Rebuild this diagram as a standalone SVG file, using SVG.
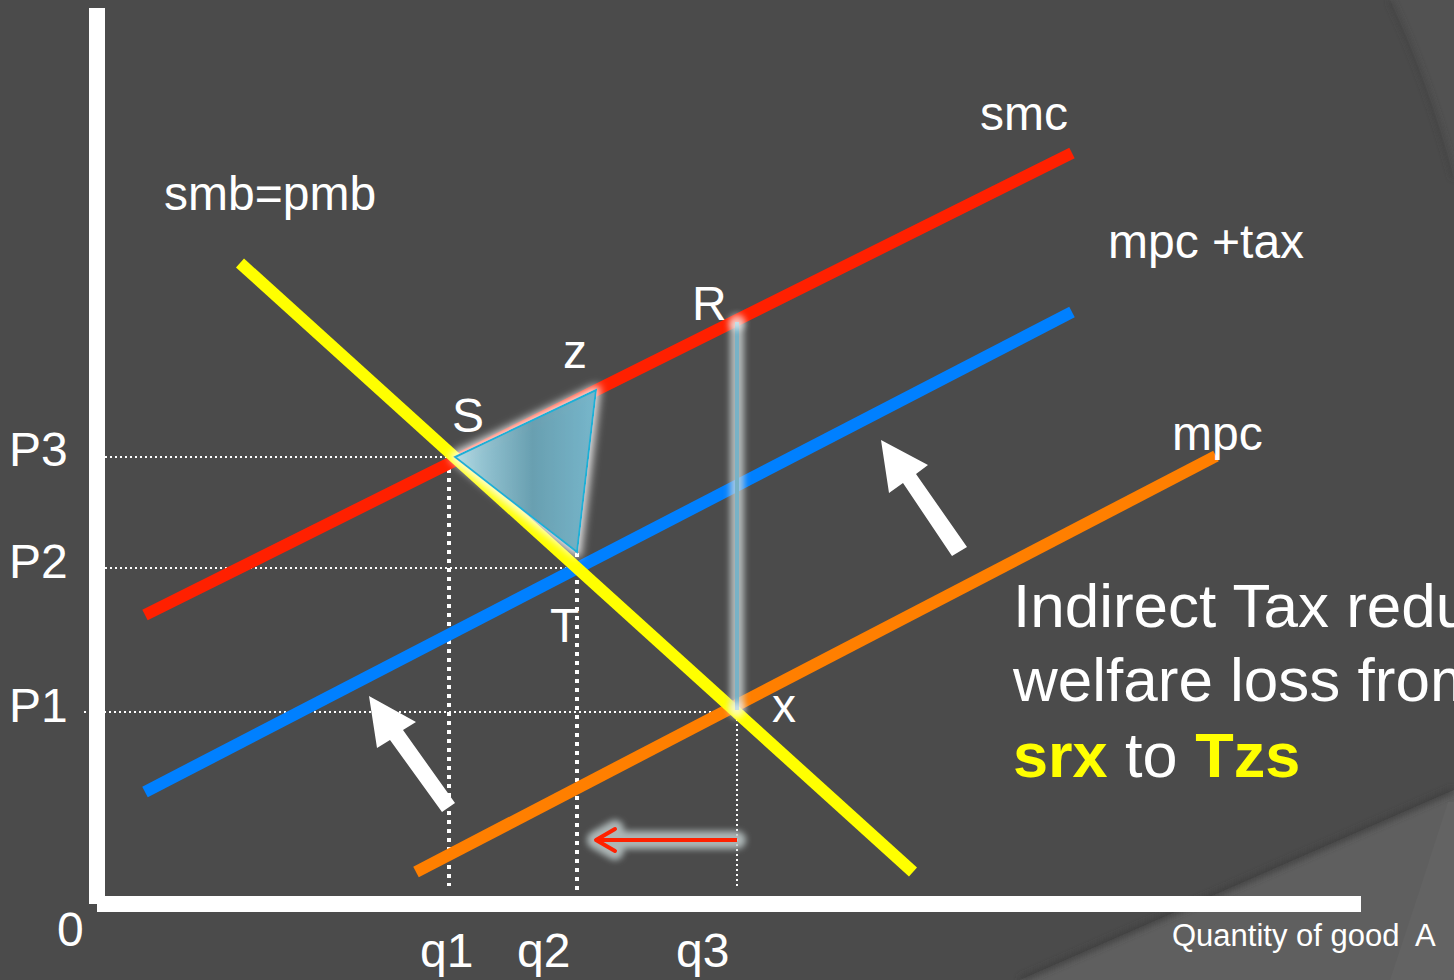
<svg xmlns="http://www.w3.org/2000/svg" width="1454" height="980" viewBox="0 0 1454 980">
<defs>
<style>
.lbl{font-family:"Liberation Sans",Arial,sans-serif;fill:#ffffff;font-size:48px}
.big{font-family:"Liberation Sans",Arial,sans-serif;fill:#ffffff;font-size:62px}
.ylw{fill:#ffff00;font-weight:bold}
.curve{fill:none;stroke-width:12;stroke-linecap:butt}
.dotS{fill:none;stroke:#ffffff;stroke-width:2;stroke-dasharray:2 3}
.dotB{fill:none;stroke:#ffffff;stroke-width:4;stroke-dasharray:4 5}
.warrow{fill:#ffffff}
</style>
<linearGradient id="triG" x1="0" y1="0" x2="1" y2="0">
<stop offset="0" stop-color="#b2dae4" stop-opacity="0.95"/>
<stop offset="0.2" stop-color="#8cc0cf" stop-opacity="0.95"/>
<stop offset="0.55" stop-color="#5b9aad" stop-opacity="0.95"/>
<stop offset="1" stop-color="#6cb3c9" stop-opacity="0.95"/>
</linearGradient>
<filter id="glow" x="-30%" y="-30%" width="160%" height="160%">
<feFlood flood-color="#ffffff" flood-opacity="0.85" result="f"/>
<feComposite in="f" in2="SourceAlpha" operator="in" result="c"/>
<feMorphology in="c" operator="dilate" radius="3" result="d"/>
<feGaussianBlur in="d" stdDeviation="4" result="b"/>
<feMerge><feMergeNode in="b"/><feMergeNode in="SourceGraphic"/></feMerge>
</filter>
<filter id="soft" filterUnits="userSpaceOnUse" x="0" y="0" width="1454" height="980">
<feGaussianBlur stdDeviation="3"/>
</filter>
</defs>

<g id="background">
<rect x="0" y="0" width="1454" height="980" fill="#4b4b4b"/>
<path d="M1390,0 Q1428,80 1454,178 L1454,0 Z" fill="#525252"/>
<path d="M1390,0 Q1428,80 1454,178" fill="none" stroke="#404040" stroke-width="3" filter="url(#soft)"/>
<path d="M1020,980 L1454,790 L1454,980 Z" fill="#5f5f5f"/>
<path d="M1020,980 L1454,790" fill="none" stroke="#3d3d3d" stroke-width="5" filter="url(#soft)"/>
<path d="M1448,802 Q1420,890 1390,980 L1454,980 L1454,802 Z" fill="#636363"/>
</g>

<g id="axes">
<rect x="89" y="8" width="16" height="896" fill="#ffffff"/>
<rect x="97" y="896" width="1264" height="16" fill="#ffffff"/>
</g>

<g id="guides">
<line class="dotS" x1="105" y1="457" x2="453" y2="457"/>
<line class="dotS" x1="105" y1="568" x2="577" y2="568"/>
<line class="dotS" x1="84" y1="712" x2="737" y2="712"/>
<line class="dotB" x1="449" y1="460" x2="449" y2="886"/>
<line class="dotB" x1="577" y1="553" x2="577" y2="892"/>
<line class="dotS" x1="737" y1="714" x2="737" y2="888"/>
</g>

<g id="curves">
<line id="smc" class="curve" x1="145" y1="615" x2="1072" y2="153" stroke="#ff2000"/>
<line id="mpc-tax" class="curve" x1="145" y1="792" x2="1072" y2="312" stroke="#0080ff"/>
<line id="mpc" class="curve" x1="416" y1="872" x2="1216" y2="456" stroke="#ff7f00"/>
<line id="smb" class="curve" x1="240" y1="263" x2="913" y2="872" stroke="#ffff00"/>
</g>

<g id="welfare-R-x">
<rect x="730" y="322" width="14" height="388" fill="#d4dcdc" opacity="0.75" filter="url(#soft)"/>
<rect x="735" y="322" width="4" height="388" fill="#78b2c6"/>
<circle cx="737" cy="322" r="8" fill="#ffffff" opacity="0.6" filter="url(#soft)"/>
<circle cx="737" cy="710" r="8" fill="#ffffff" opacity="0.6" filter="url(#soft)"/>
</g>

<g id="triangle-Tzs">
<polygon points="455,457 596,390 577,552" fill="url(#triG)" stroke="#1fb0d6" stroke-width="2" filter="url(#glow)"/>
</g>

<g id="shift-arrows">
<polygon class="warrow" points="881,440 928,465 916,474 967,547 952,556 903,483 889,493"/>
<polygon class="warrow" points="369,696 416,722 403,730 455,803 442,812 390,740 377,748"/>
</g>

<g id="quantity-arrow">
<g filter="url(#soft)" stroke="#b8c2c2" stroke-width="18" stroke-linecap="round" fill="none" opacity="0.9">
<line x1="596" y1="840" x2="737" y2="840"/>
<polyline points="615,829 596,840 615,851" stroke-linejoin="round"/>
</g>
<line x1="598" y1="840" x2="737" y2="840" stroke="#ff2000" stroke-width="4"/>
<polyline points="615,829 596,840 615,851" fill="none" stroke="#ff2000" stroke-width="4" stroke-linecap="round" stroke-linejoin="round"/>
</g>

<g id="labels">
<text class="lbl" x="980" y="130">smc</text>
<text class="lbl" x="164" y="210">smb=pmb</text>
<text class="lbl" x="1108" y="258">mpc +tax</text>
<text class="lbl" x="1172" y="450">mpc</text>
<text class="lbl" x="692" y="320">R</text>
<text class="lbl" x="563" y="368">z</text>
<text class="lbl" x="452" y="432">S</text>
<text class="lbl" x="550" y="642">T</text>
<text class="lbl" x="772" y="722">x</text>
<text class="lbl" x="9" y="466">P3</text>
<text class="lbl" x="9" y="578">P2</text>
<text class="lbl" x="9" y="722">P1</text>
<text class="lbl" x="57" y="946">0</text>
<text class="lbl" x="420" y="967">q1</text>
<text class="lbl" x="517" y="967">q2</text>
<text class="lbl" x="676" y="967">q3</text>
<text class="lbl" x="1172" y="946" xml:space="preserve" style="font-size:31px;white-space:pre">Quantity of good  A</text>
</g>

<g id="caption">
<text class="big" x="1013" y="627">Indirect Tax reduces</text>
<text class="big" x="1013" y="701">welfare loss from</text>
<text class="big" x="1013" y="777" style="font-size:63px"><tspan class="ylw">srx</tspan> to <tspan class="ylw">Tzs</tspan></text>
</g>
</svg>
